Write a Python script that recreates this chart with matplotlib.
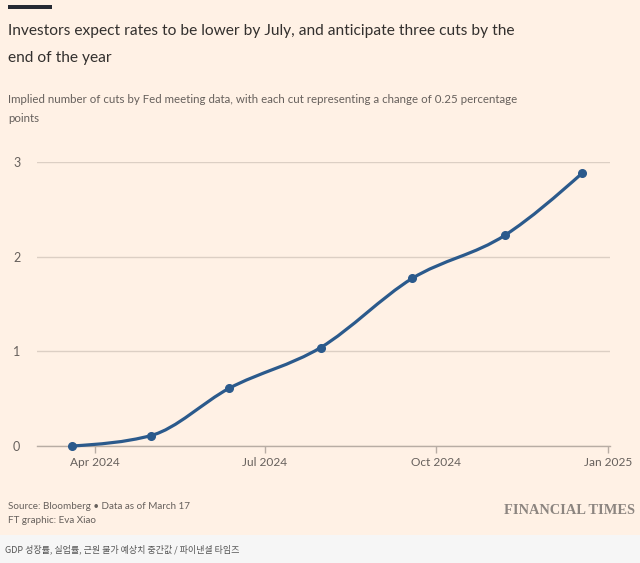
import numpy as np
import matplotlib
matplotlib.use("Agg")
import matplotlib.pyplot as plt
import matplotlib.dates as mdates
from matplotlib.path import Path
from matplotlib.patches import PathPatch, Rectangle
from datetime import date

# -------------------------------------------------------
# data: implied cuts at each Fed meeting
# -------------------------------------------------------
meeting_dates = [date(2024, 3, 20), date(2024, 5, 1), date(2024, 6, 12),
                 date(2024, 7, 31), date(2024, 9, 18), date(2024, 11, 7),
                 date(2024, 12, 18)]
implied_cuts = [0.0, 0.11, 0.61, 1.04, 1.77, 2.23, 2.88]
tick_dates = [date(2024, 4, 1), date(2024, 7, 1), date(2024, 10, 1), date(2025, 1, 1)]
tick_labels = ["Apr 2024", "Jul 2024", "Oct 2024", "Jan 2025"]
y_ticks = [0, 1, 2, 3]

title = ("Investors expect rates to be lower by July, and anticipate three cuts by the\n"
         "end of the year")
subtitle = ("Implied number of cuts by Fed meeting data, with each cut representing a change of 0.25 percentage\n"
            "points")
source = "Source: Bloomberg \u2022 Data as of March 17\nFT graphic: Eva Xiao"
caption = "GDP 성장률, 실업률, 근원 물가 예상치 중간값 / 파이낸셜 타임즈"

PAPER = "#FFF1E5"
LINE = "#2B5A8C"

plt.rcParams["font.family"] = ["Lato", "DejaVu Sans"]


# monotone-x cubic (like d3.curveMonotoneX) as bezier path
def monotone_path(x, y):
    x = np.asarray(x, float)
    y = np.asarray(y, float)
    n = len(x)
    h = np.diff(x)
    s = np.diff(y) / h
    t = np.zeros(n)
    for i in range(1, n - 1):
        p = (s[i - 1] * h[i] + s[i] * h[i - 1]) / (h[i - 1] + h[i])
        t[i] = (np.sign(s[i - 1]) + np.sign(s[i])) * min(abs(s[i - 1]), abs(s[i]), 0.5 * abs(p))
    t[0] = (3 * s[0] - t[1]) / 2
    t[-1] = (3 * s[-1] - t[-2]) / 2
    verts = [(x[0], y[0])]
    codes = [Path.MOVETO]
    for i in range(n - 1):
        dx = h[i] / 3
        verts += [(x[i] + dx, y[i] + dx * t[i]),
                  (x[i + 1] - dx, y[i + 1] - dx * t[i + 1]),
                  (x[i + 1], y[i + 1])]
        codes += [Path.CURVE4] * 3
    return Path(verts, codes)


fig = plt.figure(figsize=(6.4, 5.63), dpi=100, facecolor=PAPER)

# grey caption strip at the bottom
fig.patches.append(Rectangle((0, 0), 1, 28 / 563, transform=fig.transFigure,
                             facecolor="#F6F6F6", edgecolor="none", zorder=0))

ax = fig.add_axes([37 / 640, 1 - 446 / 563, (610 - 37) / 640, (446 - 162) / 563])
ax.set_facecolor(PAPER)

xnum = mdates.date2num(meeting_dates)
ax.add_patch(PathPatch(monotone_path(xnum, implied_cuts), facecolor="none",
                       edgecolor=LINE, lw=2.3, capstyle="round", zorder=3, clip_on=False))
ax.plot(xnum, implied_cuts, "o", color=LINE, ms=5.5, zorder=4, clip_on=False)

ax.set_xlim(mdates.date2num(date(2024, 3, 1)), mdates.date2num(date(2025, 1, 2)))
ax.set_ylim(0, 3)

ax.set_xticks(mdates.date2num(tick_dates))
ax.set_xticklabels(tick_labels)
ax.set_yticks(y_ticks)
ax.tick_params(axis="x", length=5, width=1, color="#B8ADA4", labelsize=8.6,
               labelcolor="#66605C", pad=3)
ax.tick_params(axis="y", length=0, labelsize=9, labelcolor="#66605C", pad=12)

ax.grid(axis="y", color="#DCCFC4", lw=1)
for sp in ["top", "right", "left"]:
    ax.spines[sp].set_visible(False)
ax.spines["bottom"].set_color("#B8ADA4")
ax.spines["bottom"].set_linewidth(1)

# header
fig.patches.append(Rectangle((8 / 640, 1 - 8.5 / 563), 44 / 640, 3.5 / 563,
                             transform=fig.transFigure, facecolor="#262A33",
                             edgecolor="none"))
fig.text(8 / 640, 1 - 24 / 563, title, ha="left", va="top", fontsize=11.2,
         color="#33302E", linespacing=2.15)
fig.text(8 / 640, 1 - 94 / 563, subtitle, ha="left", va="top", fontsize=8.3,
         color="#66605C", linespacing=1.85)

# footer
fig.text(8 / 640, 1 - 502 / 563, source, ha="left", va="top", fontsize=7.1,
         color="#66605C", linespacing=1.75)
fig.text(635 / 640, 1 - 511 / 563, "FINANCIAL TIMES", ha="right", va="center",
         fontsize=10.4, color="#8C8580", weight="bold",
         family=["Liberation Serif", "DejaVu Serif"])
fig.text(5 / 640, 14 / 563, caption, ha="left", va="center", fontsize=6.5,
         color="#555555", family=["Noto Sans CJK KR", "DejaVu Sans"])

fig.savefig("out.png", dpi=100, facecolor=PAPER)
